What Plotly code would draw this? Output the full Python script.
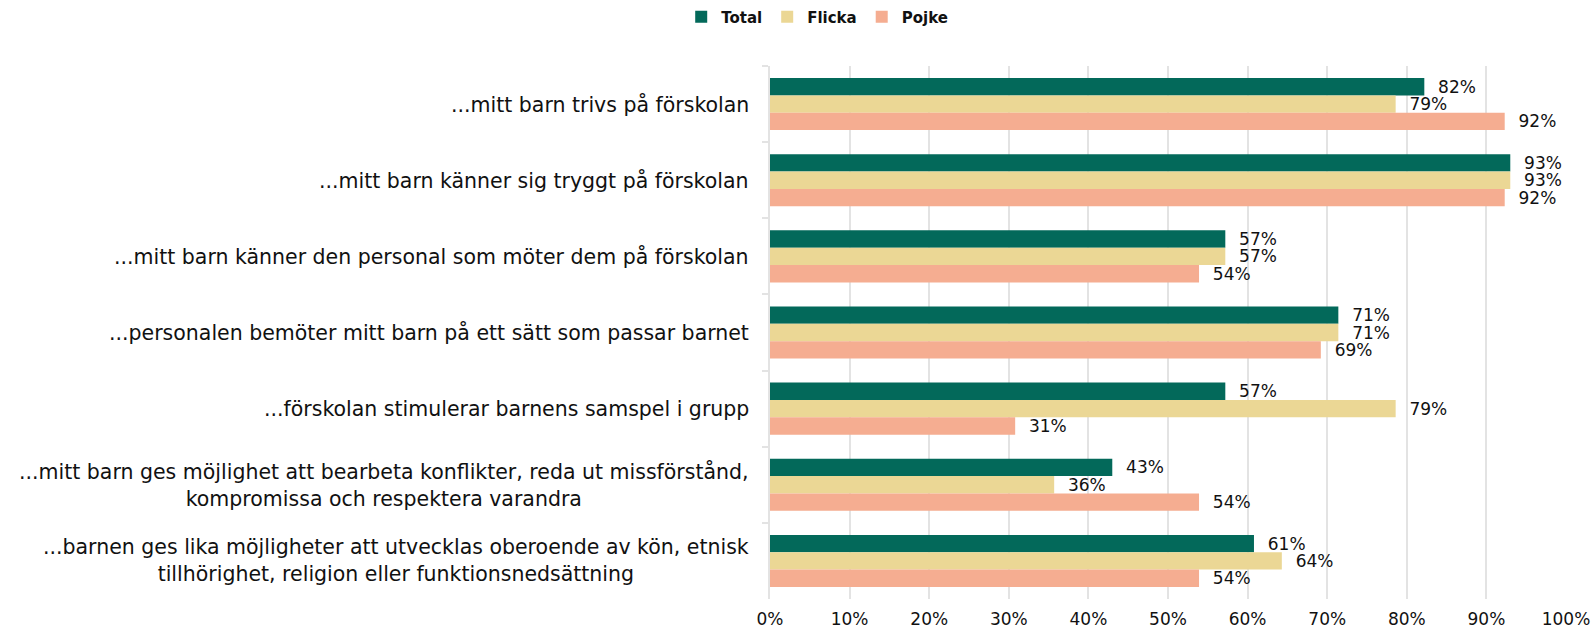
import plotly.graph_objects as go

categories = [
    "...mitt barn trivs på förskolan",
    "...mitt barn känner sig tryggt på förskolan",
    "...mitt barn känner den personal som möter dem på förskolan",
    "...personalen bemöter mitt barn på ett sätt som passar barnet",
    "...förskolan stimulerar barnens samspel i grupp",
    "...mitt barn ges möjlighet att bearbeta konflikter, reda ut missförstånd,<br>kompromissa och respektera varandra",
    "...barnen ges lika möjligheter att utvecklas oberoende av kön, etnisk<br>tillhörighet, religion eller funktionsnedsättning",
]
total = [0.822, 0.930, 0.572, 0.714, 0.572, 0.430, 0.608]
flicka = [0.786, 0.930, 0.572, 0.714, 0.786, 0.357, 0.643]
pojke = [0.923, 0.923, 0.539, 0.692, 0.308, 0.539, 0.539]

series = [("Total", total, "#03695A"), ("Flicka", flicka, "#EBD795"), ("Pojke", pojke, "#F5AD91")]

fig = go.Figure()
for name, vals, col in series:
    fig.add_trace(go.Bar(
        y=categories, x=vals, name=name, orientation="h",
        marker=dict(color=col, line=dict(width=0)),
        text=["\u00a0\u00a0" + f"{round(v*100)}%" for v in vals],
        textposition="outside", cliponaxis=False, constraintext="none",
        textfont=dict(family="DejaVu Sans", size=17, color="#111111"),
    ))

for cat in categories:
    fig.add_annotation(
        x=0, xref="paper", y=cat, yref="y", xanchor="right", xshift=-19,
        text=cat, showarrow=False, align="center",
        font=dict(family="DejaVu Sans", size=20.5, color="#111111"),
    )

fig.update_layout(
    barmode="group", bargap=0.316, bargroupgap=0,
    width=1593, height=630,
    margin=dict(l=770, r=27, t=66, b=31, autoexpand=False),
    plot_bgcolor="white", paper_bgcolor="white",
    legend=dict(orientation="h", x=0.513, xanchor="center", xref="container",
                y=1 - 17 / 630, yanchor="middle", yref="container",
                font=dict(family="DejaVu Sans", size=15, color="#111111", weight="bold"),
                itemwidth=30, traceorder="normal"),
    xaxis=dict(range=[0, 1], tickformat=".0%", dtick=0.1, showgrid=True, automargin=False,
               gridcolor="#E3E3E3", gridwidth=2, zeroline=False, ticklabelstandoff=8,
               tickfont=dict(family="DejaVu Sans", size=17, color="#111111")),
    yaxis=dict(autorange="reversed", showline=True, linecolor="#E3E3E3", linewidth=2,
               showticklabels=False, ticks="outside", tickson="boundaries", automargin=False,
               ticklen=6, tickcolor="#E3E3E3", tickwidth=2),
)
fig.write_html("out.html", config={"displayModeBar": False},
               post_script="document.body.style.margin='0';")
